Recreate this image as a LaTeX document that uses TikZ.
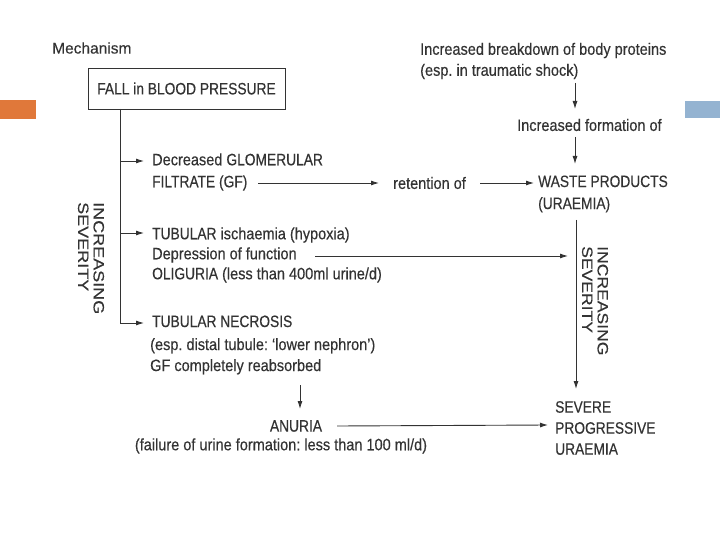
\documentclass[tikz,border=0pt]{standalone}
\usepackage{fontspec}
\setmainfont{Liberation Sans}[FakeStretch=0.88,FakeBold=0.35]
\newfontfamily\capf{Liberation Sans}[FakeStretch=0.835,FakeBold=0.35]
\newfontfamily\widesans{Liberation Sans}[FakeBold=0.3]
\usetikzlibrary{arrows.meta}
\definecolor{ink}{HTML}{333333}
\definecolor{accorange}{HTML}{E0783A}
\definecolor{accblue}{HTML}{94B3D1}
\frenchspacing
\begin{document}
\begin{tikzpicture}[x=1bp,y=-1bp,
  txt/.style={font=\fontsize{16.5bp}{21bp}\selectfont, text=ink, inner sep=0pt, align=left},
  vtxt/.style={font=\widesans\fontsize{15bp}{15.5bp}\selectfont, text=ink, inner sep=0pt, align=left, rotate=-90, anchor=west},
  conn/.style={draw=ink, line width=0.9bp},
  arr/.style={conn, -{Latex[length=8bp,width=5bp]}}
]
\useasboundingbox[fill=white] (0,0) rectangle (720,540);
% accent bars
\fill[accorange] (0,100) rectangle (36,119);
\fill[accblue] (685,101) rectangle (720,118);

% texts
\node[txt, anchor=west, font=\widesans\fontsize{15.5bp}{18bp}\selectfont] (mech) at (52,48) {Mechanism};
\node[txt, draw=ink, line width=0.9bp, minimum width=197bp, minimum height=41bp, align=center] (fall) at (186.5,88.5) {\capf FALL in BLOOD PRESSURE};

\node[txt, anchor=west] (prot) at (420,61) {Increased breakdown of body proteins\\(esp.\ in traumatic shock)};
\node[txt, anchor=west] (incf) at (517,125) {Increased formation of};

\node[txt, anchor=west] (dgf) at (152,172) {Decreased {\capf GLOMERULAR}\\[1bp]{\capf FILTRATE (GF)}};
\node[txt, anchor=west] (ret) at (393,183) {retention of};
\node[txt, anchor=west] (waste) at (538,194) {{\capf WASTE PRODUCTS}\\[1bp]{\capf (URAEMIA)}};

\node[txt, anchor=west] (tub) at (152,255) {{\capf TUBULAR} ischaemia (hypoxia)\\[-1bp]Depression of function\\[-1bp]{\capf OLIGURIA} (less than 400ml urine/d)};

\node[txt, anchor=west] (nec) at (150,345) {\hspace*{2bp}{\capf TUBULAR NECROSIS}\\[2bp](esp.\ distal tubule: `lower nephron')\\GF completely reabsorbed};

\node[txt] (anuria) at (296,426) {\capf ANURIA};
\node[txt] (fail) at (281,446) {(failure of urine formation: less than 100 ml/d)};

\node[txt, anchor=west] (severe) at (555,428) {{\capf SEVERE}\\{\capf PROGRESSIVE}\\{\capf URAEMIA}};

\node[vtxt] (isL) at (91,202) {\scalebox{1.2}[1]{INCREASING}\\\scalebox{1.2}[1]{SEVERITY}};
\node[vtxt] (isR) at (595,246) {\scalebox{1.17}[1]{INCREASING}\\\scalebox{1.17}[1]{SEVERITY}};

% left trunk
\coordinate (trunk) at (120,109);
\coordinate (jD) at (120,161);
\coordinate (jT) at (120,233);
\coordinate (tipN) at (144,323);
\draw[arr] (trunk) |- (tipN);
\draw[arr] (jD) -- ++(24,0);
\draw[arr] (jT) -- ++(24,0);

% right column
\coordinate (p1) at (575,83);
\coordinate (p2) at (575,109);
\draw[arr] (p1) -- (p2);
\coordinate (p3) at (575,137);
\coordinate (p4) at (575,164);
\draw[arr] (p3) -- (p4);

\coordinate (gfEnd) at (258,183);
\draw[arr] (gfEnd) -- (379,183);
\draw[arr] ([xshift=14bp]ret.east) -- (534,183);

\coordinate (depS) at (315,256);
\coordinate (depE) at (568,256);
\draw[arr] (depS) -- (depE);

\coordinate (wS) at (576,220);
\coordinate (wE) at (576,389);
\draw[arr] (wS) -- (wE);

\coordinate (nS) at (300,385);
\coordinate (nE) at (300,409);
\draw[arr] (nS) -- (nE);

\draw[arr] ([xshift=15bp]anuria.east) -- (548,425);
\end{tikzpicture}
\end{document}
